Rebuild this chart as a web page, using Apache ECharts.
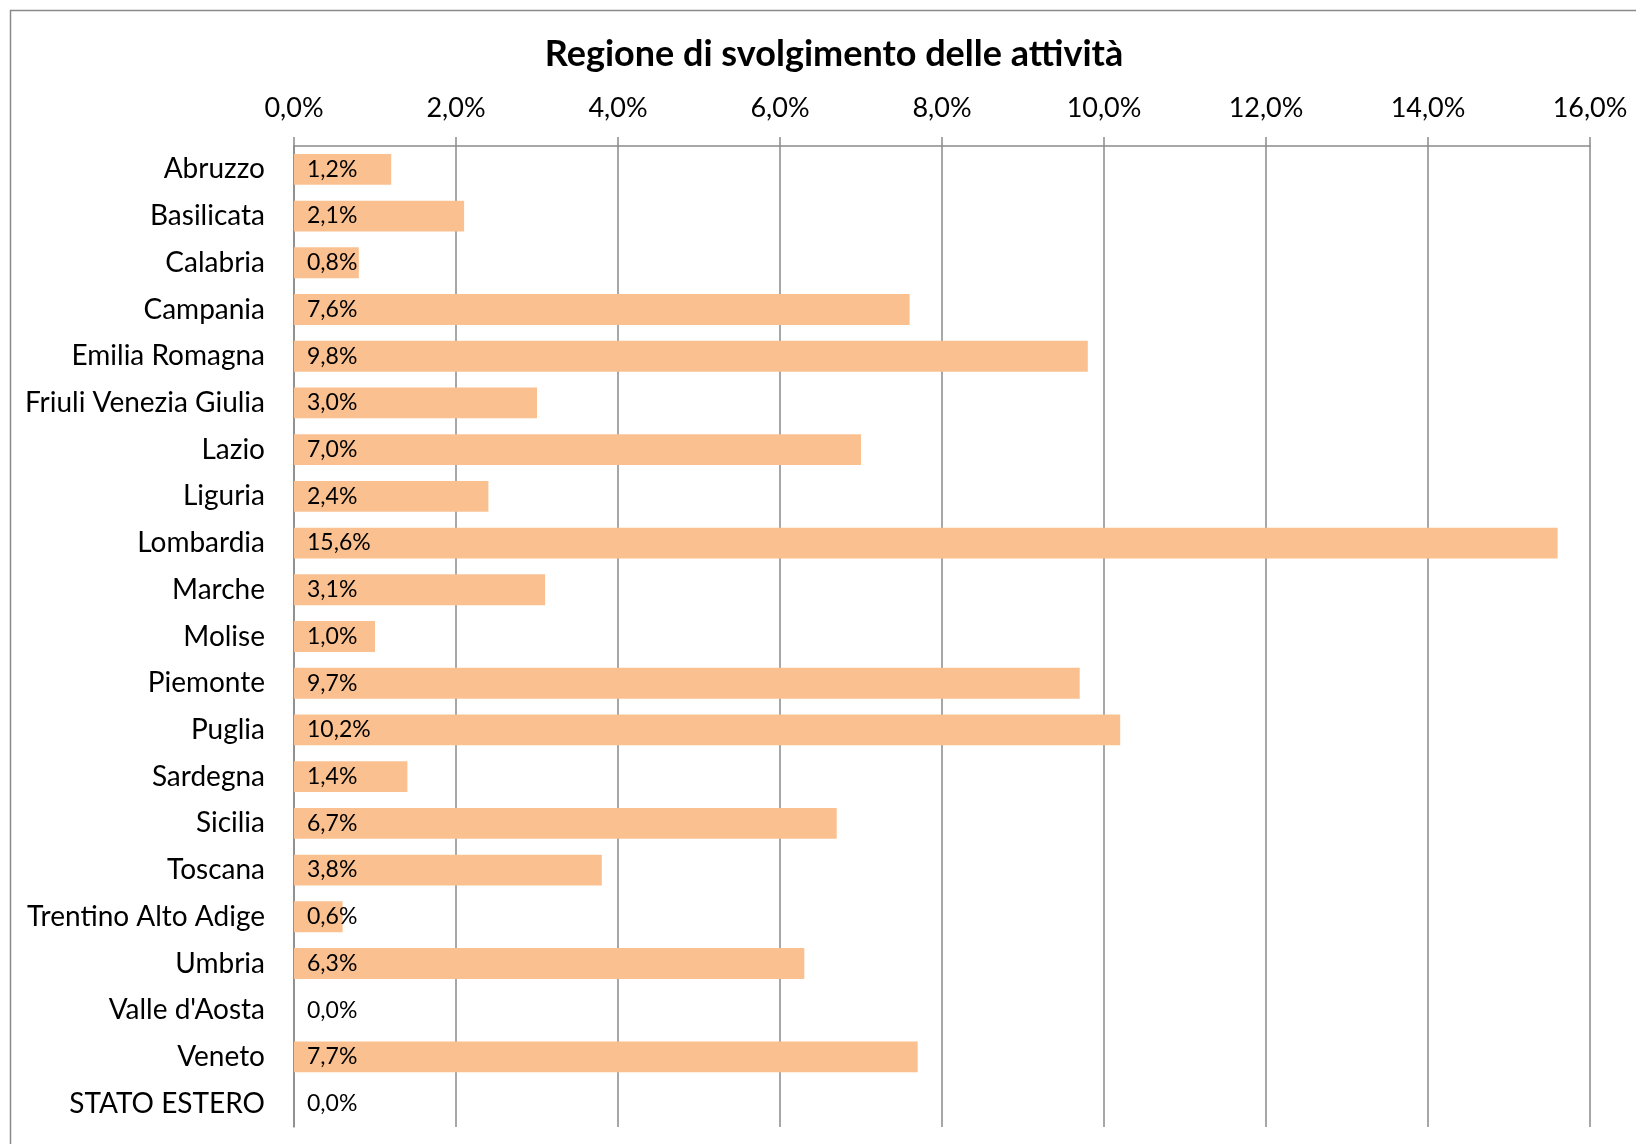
<!DOCTYPE html>
<html>
<head>
<meta charset="utf-8">
<script src="https://cdn.jsdelivr.net/npm/echarts@6/dist/echarts.min.js"></script>
<style>
html,body{margin:0;padding:0;background:#fff;}
#chart{width:1636px;height:1144px;}
</style>
</head>
<body>
<div id="chart"></div>
<script>
const categories = ["Abruzzo","Basilicata","Calabria","Campania","Emilia Romagna","Friuli Venezia Giulia","Lazio","Liguria","Lombardia","Marche","Molise","Piemonte","Puglia","Sardegna","Sicilia","Toscana","Trentino Alto Adige","Umbria","Valle d'Aosta","Veneto","STATO ESTERO"];
const values = [1.2,2.1,0.8,7.6,9.8,3.0,7.0,2.4,15.6,3.1,1.0,9.7,10.2,1.4,6.7,3.8,0.6,6.3,0.0,7.7,0.0];
const titleText = "Regione di svolgimento delle attività";

const fmt = v => v.toFixed(1).replace('.', ',') + '%';
const FONT = 'Lato';
const GRAY = '#8a8a8a';

const chart = echarts.init(document.getElementById('chart'), null, {renderer:'canvas'});
chart.setOption({
  animation:false,
  backgroundColor:'#fff',
  graphic:[{
    type:'rect', silent:true,
    shape:{x:10.5,y:10.5,width:1700,height:1200},
    style:{fill:'none',stroke:GRAY,lineWidth:1.5}
  }],
  title:{
    text:titleText, left:829, top:30, textAlign:'center',
    textStyle:{fontFamily:FONT,fontWeight:'bold',fontSize:36,color:'#000',lineHeight:38}
  },
  grid:{left:294,right:46,top:146,bottom:17,containLabel:false},
  xAxis:{
    type:'value', position:'top', min:0, max:16, interval:2,
    axisLine:{show:true,lineStyle:{color:GRAY,width:1.5}},
    axisTick:{show:true,length:9,lineStyle:{color:GRAY,width:1.5}},
    splitLine:{show:true,lineStyle:{color:GRAY,width:1.5}},
    axisLabel:{formatter:fmt,fontFamily:FONT,fontSize:27,color:'#000',margin:24}
  },
  yAxis:{
    type:'category', data:categories, inverse:true,
    axisLine:{show:true,lineStyle:{color:GRAY,width:1.5}},
    axisTick:{show:false},
    axisLabel:{fontFamily:FONT,fontSize:28,color:'#000',margin:29}
  },
  series:[{
    type:'bar', data:values, barCategoryGap:'34%',
    itemStyle:{color:'#FAC090'},
    label:{show:true,position:'insideLeft',distance:13,formatter:p=>fmt(p.value),
      fontFamily:FONT,fontSize:23,color:'#000'}
  }]
});
</script>
</body>
</html>
